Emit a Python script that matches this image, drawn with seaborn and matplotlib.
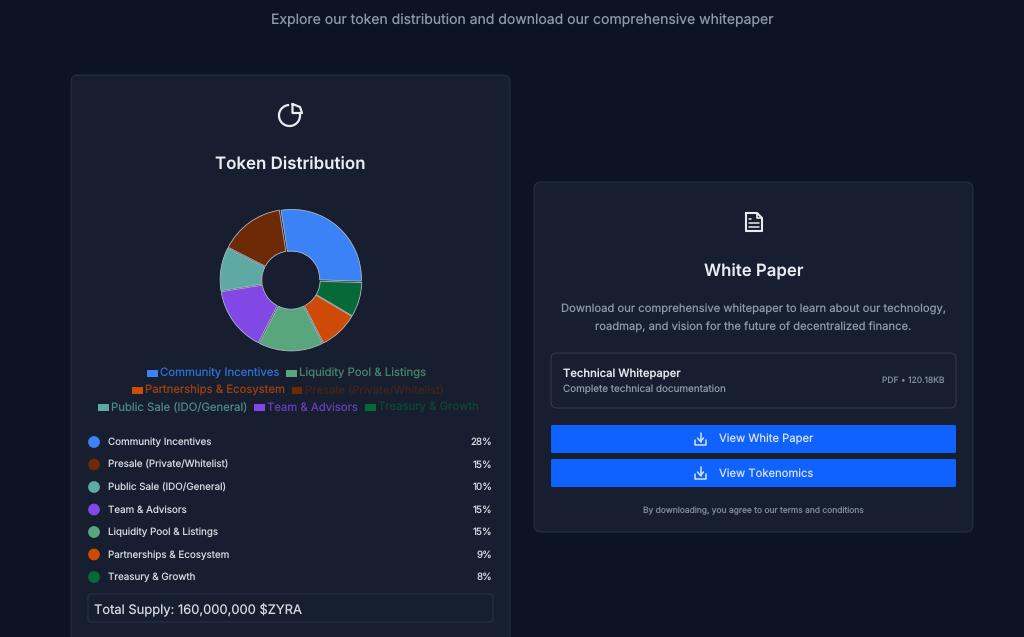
import matplotlib
matplotlib.use('Agg')
import matplotlib.pyplot as plt
import seaborn as sns
import pandas as pd
from matplotlib.patches import FancyBboxPatch, Rectangle, Arc

# order of the list below the chart
categories = ['Community Incentives', 'Presale (Private/Whitelist)', 'Public Sale (IDO/General)',
              'Team & Advisors', 'Liquidity Pool & Listings', 'Partnerships & Ecosystem', 'Treasury & Growth']
shares = [28, 15, 10, 15, 15, 9, 8]
colors = ['#3b82f6', '#6e2a06', '#5fa9a5', '#8148e6', '#5aa67c', '#cf4a06', '#066a38']
# the doughnut runs clockwise in this order
pie_order = [0, 6, 5, 4, 3, 2, 1]

legend_rows = [[0, 4], [5, 1], [2, 3, 6]]
legend_alpha = [0.8, 0.5, 0.75, 0.75, 0.75, 0.75, 0.55]

BG = '#0c1323'
CARD = '#161e2f'
LINE = '#2a3343'

sns.set_theme(style='dark')
plt.rcParams['font.family'] = ['Inter', 'DejaVu Sans']
plt.rcParams['text.hinting'] = 'no_hinting'
plt.rcParams['text.hinting_factor'] = 1

def px(size):
    return size * 0.72

fig = plt.figure(figsize=(10.24, 6.37), dpi=100, facecolor=BG)
ax = fig.add_axes([0, 0, 1, 1])
ax.set_xlim(0, 1024)
ax.set_ylim(637, 0)
ax.axis('off')

def box(x0, y0, x1, y1, face=CARD, edge=LINE, r=7, lw=0.7):
    ax.add_patch(FancyBboxPatch((x0 + r, y0 + r), x1 - x0 - 2 * r, y1 - y0 - 2 * r,
                                boxstyle=f'round,pad={r},rounding_size={r}',
                                fc=face, ec=edge, lw=lw, zorder=1))

def text(x, y, s, size, color, ha='left', weight='normal'):
    ax.text(x, y + 0.8, s, fontsize=px(size), color=color, ha=ha, va='center', fontweight=weight, zorder=3)

text(522, 19, 'Explore our token distribution and download our comprehensive whitepaper', 14, '#8f98a8', ha='center')

# left card runs off the bottom of the page
box(71, 75, 510, 660)
box(534, 182, 973, 532)

# pie icon
ax.add_patch(Arc((289.5, 115.5), 21, 21, theta1=-12, theta2=268, color='#e8ebf0', lw=1.6, zorder=3))
ax.plot([292.5, 292.5, 302, 300, 292.5], [104, 113, 113, 107, 104], color='#e8ebf0', lw=1.6, zorder=3)
text(290.5, 163, 'Token Distribution', 16.9, '#e9ecf1', ha='center', weight='semibold')

# doughnut
r_px = 69.5
ax_pie = fig.add_axes([(291 - 1.1 * r_px) / 1024, 1 - (280 + 1.1 * r_px) / 637,
                       2.2 * r_px / 1024, 2.2 * r_px / 637])
ax_pie.pie([shares[i] for i in pie_order], colors=[colors[i] for i in pie_order],
           startangle=99, counterclock=False, radius=1, explode=[0.02] * 7,
           wedgeprops=dict(width=0.6, edgecolor='#aeb8c4', linewidth=0.6))
ax_pie.set_xlim(-1.1, 1.1)
ax_pie.set_ylim(-1.1, 1.1)
ax_pie.patch.set_alpha(0)

# chart legend, wrapped on three centred rows
row_y = [372.5, 389.5, 406.5]
row_x = [147, 132, 98]
renderer = fig.canvas.get_renderer()
for row, y, x in zip(legend_rows, row_y, row_x):
    for i in row:
        ax.add_patch(Rectangle((x, y - 3), 10.5, 7, fc=colors[i], ec='none', zorder=3))
        t = ax.text(x + 13, y + 0.8, categories[i], fontsize=px(11.35), color=colors[i],
                    alpha=legend_alpha[i], va='center', zorder=3)
        x += 13 + t.get_window_extent(renderer).width + 7

# breakdown list
list_y = [442, 464.5, 487, 509.5, 532, 554.5, 577]
df = pd.DataFrame({'x': [94] * 7, 'y': list_y, 'name': categories})
sns.scatterplot(data=df, x='x', y='y', hue='name', palette=colors, s=72, linewidth=0,
                legend=False, ax=ax, zorder=3)
ax.set_xlim(0, 1024)
ax.set_ylim(637, 0)
for name, share, y in zip(categories, shares, list_y):
    text(107.5, y - 0.3, name, 9.85, '#d5d9e0')
    text(492.5, y - 0.3, f'{share}%', 9.85, '#d5d9e0', ha='right')

box(88, 594, 493, 622, face=CARD, edge='#2f394a', r=2.5, lw=0.6)
text(94.5, 608, 'Total Supply: 160,000,000 $ZYRA', 12.95, '#d5d9e0')

# document icon
doc_x = [746, 757, 762, 762, 746, 746]
doc_y = [213, 213, 218, 231, 231, 213]
ax.plot(doc_x, doc_y, color='#e8ebf0', lw=1.5, zorder=3, solid_joinstyle='round')
ax.plot([757, 757, 762], [213, 218, 218], color='#e8ebf0', lw=1.2, zorder=3)
for yy, x1 in zip([219, 223, 227], [751, 759, 759]):
    ax.plot([749, x1], [yy, yy], color='#e8ebf0', lw=1.1, zorder=3)
text(753.5, 271, 'White Paper', 16.8, '#e9ecf1', ha='center', weight='semibold')

text(753.5, 309, 'Download our comprehensive whitepaper to learn about our technology,', 11.25, '#8f98a8', ha='center')
text(753.5, 327, 'roadmap, and vision for the future of decentralized finance.', 11.25, '#8f98a8', ha='center')

box(551, 353, 956, 408, face=CARD, edge='#384152', r=6, lw=0.6)
text(563, 373.5, 'Technical Whitepaper', 11.2, '#e4e7ec', weight='medium')
text(563, 388.5, 'Complete technical documentation', 9.9, '#8f98a8')
text(944, 380, 'PDF • 120.18KB', 8.5, '#7f8898', ha='right')

# buttons
for y0, y1, label in [(425, 453, 'View White Paper'), (459, 487, 'View Tokenomics')]:
    box(551, y0, 956, y1, face='#0f62fe', edge='#0f62fe', r=1.5, lw=0)
    cy = (y0 + y1) / 2
    ax.plot([695, 695, 706, 706], [cy + 1, cy + 5.5, cy + 5.5, cy + 1], color='#d5e2fb', lw=1.1, zorder=3)
    ax.plot([700.5, 700.5], [cy - 6, cy + 2.5], color='#d5e2fb', lw=1.1, zorder=3)
    ax.plot([697.5, 700.5, 703.5], [cy - 1, cy + 2.5, cy - 1], color='#d5e2fb', lw=1.1, zorder=3)
    text(766, cy - 0.3, label, 11.25, '#d5e2fb', ha='center')

text(753.5, 509.5, 'By downloading, you agree to our terms and conditions', 8.45, '#7f8898', ha='center')

fig.savefig('out.png', dpi=100, facecolor=BG)
